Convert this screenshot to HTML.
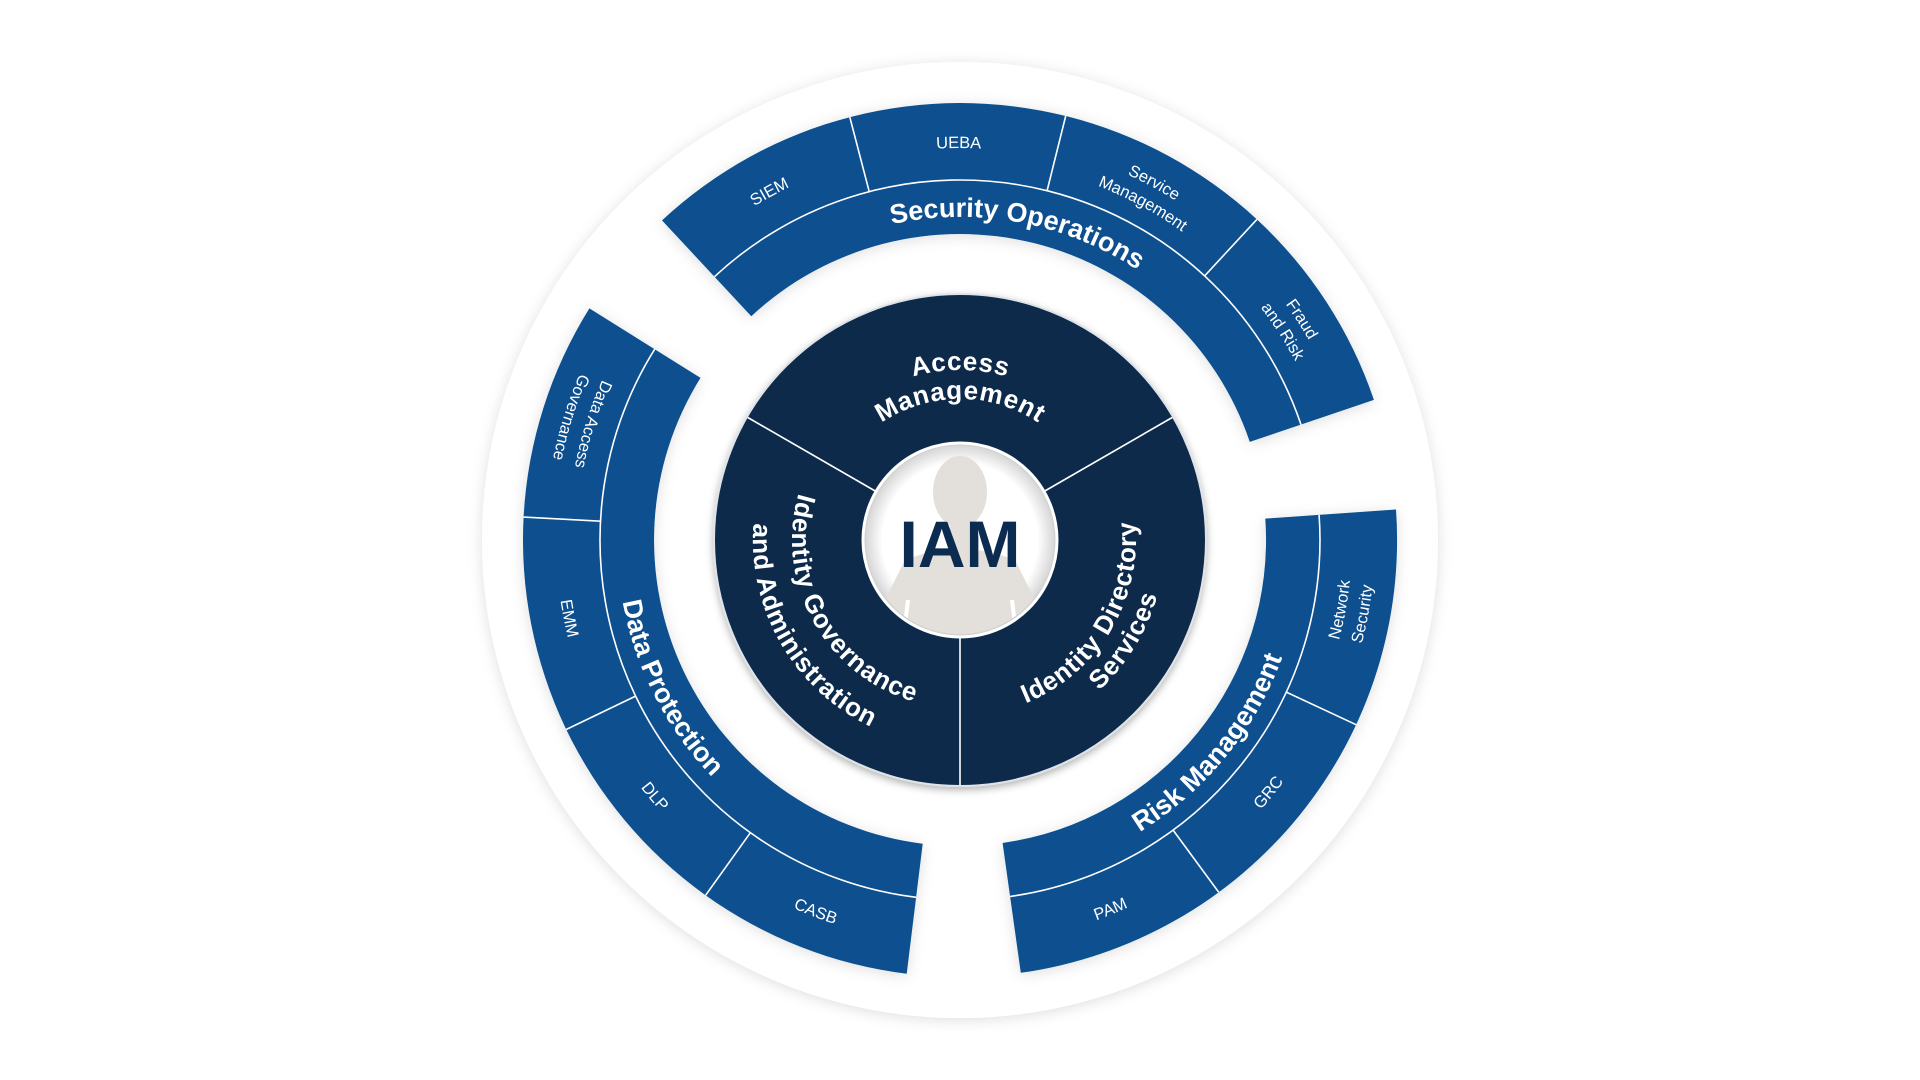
<!DOCTYPE html>
<html><head><meta charset="utf-8"><style>
html,body{margin:0;padding:0;background:#fff;}
svg{display:block;}
.b{font-family:"Liberation Sans",sans-serif;font-weight:bold;fill:#fff;}
.s{font-family:"Liberation Sans",sans-serif;fill:#fff;font-size:16.5px;}
</style></head><body>
<svg width="1920" height="1080" viewBox="0 0 1920 1080" xmlns="http://www.w3.org/2000/svg">
<defs>
<filter id="sh" x="-20%" y="-20%" width="140%" height="140%"><feDropShadow dx="0" dy="2" stdDeviation="7" flood-color="#000" flood-opacity="0.13"/></filter>
<filter id="sh2" x="-20%" y="-20%" width="140%" height="140%"><feDropShadow dx="0" dy="3" stdDeviation="4" flood-color="#000" flood-opacity="0.3"/></filter>
<radialGradient id="ig" cx="50%" cy="50%" r="50%"><stop offset="0.8" stop-color="#fff"/><stop offset="0.97" stop-color="#d8d8d8"/><stop offset="1" stop-color="#bbb"/></radialGradient>
<clipPath id="cc"><circle cx="960" cy="540" r="94"/></clipPath>
<path id="w323" d="M1283,540 A323,323 0 1 1 637,540 A323,323 0 1 1 1283,540"/>
<path id="w392" d="M1352,540 A392,392 0 1 1 568,540 A392,392 0 1 1 1352,540"/>
<path id="w402" d="M1362,540 A402,402 0 1 1 558,540 A402,402 0 1 1 1362,540"/>
<path id="w380" d="M1340,540 A380,380 0 1 1 580,540 A380,380 0 1 1 1340,540"/>
<path id="w170" d="M1130,540 A170,170 0 1 1 790,540 A170,170 0 1 1 1130,540"/>
<path id="w141" d="M1101,540 A141,141 0 1 1 819,540 A141,141 0 1 1 1101,540"/>
<path id="c343" d="M960,197 A343,343 0 1 0 960,883 A343,343 0 1 0 960,197"/>
<path id="c404" d="M960,136 A404,404 0 1 0 960,944 A404,404 0 1 0 960,136"/>
<path id="c392" d="M960,148 A392,392 0 1 0 960,932 A392,392 0 1 0 960,148"/>
<path id="c415" d="M960,125 A415,415 0 1 0 960,955 A415,415 0 1 0 960,125"/>
<path id="c168" d="M960,372 A168,168 0 1 0 960,708 A168,168 0 1 0 960,372"/>
<path id="c207" d="M960,333 A207,207 0 1 0 960,747 A207,207 0 1 0 960,333"/>
<path id="c176" d="M960,364 A176,176 0 1 0 960,716 A176,176 0 1 0 960,364"/>
<path id="c205" d="M960,335 A205,205 0 1 0 960,745 A205,205 0 1 0 960,335"/>
</defs>

<circle cx="960" cy="540" r="478" fill="#fff" filter="url(#sh)"/>

<g fill="#07508f" filter="url(#sh)">
<path d="M1373.9,399.9 A437,437 0 0 0 662.0,220.4 L751.3,316.2 A306,306 0 0 1 1249.8,441.9 Z"/>
<path d="M589.4,308.4 A437,437 0 0 0 906.7,973.7 L922.7,843.7 A306,306 0 0 1 700.5,377.9 Z"/>
<path d="M1020.8,972.8 A437,437 0 0 0 1396.0,509.5 L1265.3,518.6 A306,306 0 0 1 1002.6,843.0 Z"/>
</g>
<g stroke="#fff" stroke-width="1.6" fill="none">
<path d="M1301.0,424.6 A360,360 0 0 0 714.5,276.7"/>
<path d="M654.7,349.2 A360,360 0 0 0 916.1,897.3"/>
<path d="M1010.1,896.5 A360,360 0 0 0 1319.1,514.9"/>
<line x1="1204.6" y1="275.9" x2="1256.9" y2="219.4"/>
<line x1="1047.1" y1="190.7" x2="1065.7" y2="116.0"/>
<line x1="869.2" y1="191.6" x2="849.8" y2="117.1"/>
<line x1="600.5" y1="521.2" x2="523.6" y2="517.1"/>
<line x1="635.6" y1="696.1" x2="566.2" y2="729.5"/>
<line x1="750.4" y1="832.7" x2="705.6" y2="895.3"/>
<line x1="1173.1" y1="830.1" x2="1218.7" y2="892.2"/>
<line x1="1286.3" y1="692.1" x2="1356.1" y2="724.7"/>
</g>

<circle cx="960" cy="540" r="246" fill="#0a2a4b" stroke="#dfe3e8" stroke-width="2" filter="url(#sh2)"/>
<g stroke="#fff" stroke-width="1.6">
<line x1="1043.1" y1="492" x2="1172.2" y2="417.5"/>
<line x1="876.9" y1="492" x2="747.8" y2="417.5"/>
<line x1="960" y1="636" x2="960" y2="785"/>
</g>

<circle cx="960" cy="540" r="97" fill="url(#ig)" stroke="#fff" stroke-width="3"/>
<g clip-path="url(#cc)" fill="#e3e0dc">
<ellipse cx="960" cy="492" rx="27" ry="36"/>
<rect x="950" y="520" width="20" height="30"/>
<path d="M905,560 Q960,538 1015,560 L1040,610 L1060,660 L860,660 L880,610 Z"/>
<path d="M908,600 L902,650 M1012,600 L1018,650" stroke="#fff" stroke-width="4"/>
</g>
<text x="960" y="567" text-anchor="middle" font-family="Liberation Sans, sans-serif" font-weight="bold" font-size="66" fill="#0b2b50">IAM</text>

<g class="b" font-size="27" text-anchor="middle">
<text><textPath href="#w323" startOffset="1581.3">Security Operations</textPath></text>
<text><textPath href="#c343" startOffset="700.4">Data Protection</textPath></text>
<text><textPath href="#c343" startOffset="1381.1">Risk Management</textPath></text>
</g>
<g class="b" font-size="26" text-anchor="middle" letter-spacing="0.8">
<text><textPath href="#w170" startOffset="801.1">Access</textPath></text>
<text><textPath href="#w141" startOffset="664.4">Management</textPath></text>
<text><textPath href="#c168" startOffset="348.9">Identity Governance</textPath></text>
<text><textPath href="#c207" startOffset="433.5">and Administration</textPath></text>
<text><textPath href="#c176" startOffset="734.1">Identity Directory</textPath></text>
<text><textPath href="#c205" startOffset="853.3">Services</textPath></text>
</g>
<g class="s" text-anchor="middle">
<text><textPath href="#w392" startOffset="1650.2">SIEM</textPath></text>
<text><textPath href="#w392" startOffset="1845.2">UEBA</textPath></text>
<text><textPath href="#w402" startOffset="2093.7">Service</textPath></text>
<text><textPath href="#w380" startOffset="1979.1">Management</textPath></text>
<text><textPath href="#w402" startOffset="2294.3">Fraud</textPath></text>
<text><textPath href="#w380" startOffset="2168.7">and Risk</textPath></text>
<text><textPath href="#c392" startOffset="496.0">Data Access</textPath></text>
<text><textPath href="#c415" startOffset="525.1">Governance</textPath></text>
<text><textPath href="#c404" startOffset="714.3">EMM</textPath></text>
<text><textPath href="#c404" startOffset="916.6">DLP</textPath></text>
<text><textPath href="#c404" startOffset="1119.0">CASB</textPath></text>
<text><textPath href="#c404" startOffset="1425.0">PAM</textPath></text>
<text><textPath href="#c404" startOffset="1626.0">GRC</textPath></text>
<text><textPath href="#c392" startOffset="1775.4">Network</textPath></text>
<text><textPath href="#c415" startOffset="1879.6">Security</textPath></text>
</g>
</svg>
</body></html>
